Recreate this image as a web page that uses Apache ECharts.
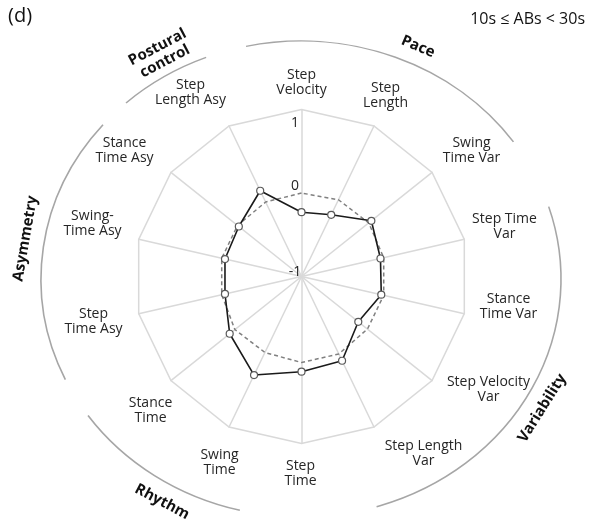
<!DOCTYPE html>
<html>
<head>
<meta charset="utf-8">
<script src="https://cdn.jsdelivr.net/npm/echarts@6/dist/echarts.min.js"></script>
<style>
  html, body { margin: 0; padding: 0; background: #fff; }
  #chart { width: 591px; height: 521px; }
</style>
</head>
<body>
<div id="chart"></div>
<script>
// Gait parameters, listed clockwise from the top spoke
const categories = [
  'Step\nVelocity', 'Step\nLength', 'Swing\nTime Var', 'Step Time\nVar',
  'Stance\nTime Var', 'Step Velocity\nVar', 'Step Length\nVar', 'Step\nTime',
  'Swing\nTime', 'Stance\nTime', 'Step\nTime Asy', 'Swing-\nTime Asy',
  'Stance\nTime Asy', 'Step\nLength Asy'
];
// z-scores of the 10s <= ABs < 30s group (solid line)
const groupValues = [-0.23, -0.18, 0.07, -0.03, -0.02, -0.13, 0.12, 0.14, 0.31, 0.10, -0.06, -0.06, -0.04, 0.14];
// comparison profile (dashed line)
const referenceValues = [0.00, 0.02, 0.03, 0.01, 0.01, 0.01, 0.03, 0.03, 0.01, 0.02, -0.02, -0.02, -0.02, -0.01];
const tickValues = [-1, 0, 1];
const tickLabels = ['-1', '0', '1'];
const domains = ['Pace', 'Variability', 'Rhythm', 'Asymmetry', 'Postural\ncontrol'];

// ---- layout ----
const CX = 301.5, CY = 276.5, R = 167;
const FONT = '"Open Sans", "Noto Sans", sans-serif';
// centres of the parameter names, relative to the radar centre
const nameOffsets = [
  [0, -194], [84, -181], [170, -126], [203, -50], [207, 30], [187, 113], [122, 177],
  [-1, 197], [-82, 186], [-151, 134], [-208, 45], [-209, -53], [-177, -126], [-111, -184]
];
// value labels: nudge along the vertical spoke
const tickShift = [-4, -7, 14];

// domain brackets drawn as pieces of one ellipse around the radar
const ELL = { cx: 301, cy: 279, rx: 260, ry: 238 };
const deg = Math.PI / 180;
const domainArcs = [ // [start, end] in degrees, canvas orientation (y down)
  [257.8, 324.8], [-17.7, 73.1], [103.6, 145], [155, 220.4], [227.7, 248.6]
];
const domainLabelAt = [ // [angle on ellipse, distance outside it]
  [295, 18], [30, 19], [120, 19], [189, 19], [240, 21]
];

// radar indicators run counter-clockwise in ECharts, so feed them reversed
const n = categories.length;
const ccw = categories.map((_, i) => (n - i) % n);

const graphics = [];

domainArcs.forEach(([a0, a1]) => {
  graphics.push({
    type: 'arc', x: ELL.cx, y: ELL.cy, scaleY: ELL.ry / ELL.rx, silent: true,
    shape: { cx: 0, cy: 0, r: ELL.rx, startAngle: a0 * deg, endAngle: a1 * deg, clockwise: true },
    style: { fill: 'none', stroke: '#a6a6a6', lineWidth: 1.6, strokeNoScale: true }
  });
});

domains.forEach((label, k) => {
  const [tDeg, d] = domainLabelAt[k];
  const t = tDeg * deg;
  const px = ELL.cx + ELL.rx * Math.cos(t), py = ELL.cy + ELL.ry * Math.sin(t);
  let nx = ELL.ry * Math.cos(t), ny = ELL.rx * Math.sin(t);
  const nl = Math.hypot(nx, ny); nx /= nl; ny /= nl;
  let tx = -ELL.rx * Math.sin(t), ty = ELL.ry * Math.cos(t);
  if (tx < 0) { tx = -tx; ty = -ty; }
  graphics.push({
    type: 'text', x: px + nx * d, y: py + ny * d, rotation: -Math.atan2(ty, tx), silent: true,
    style: {
      text: label, x: 0, y: 0, fill: '#111',
      font: 'bold 15px ' + FONT, lineHeight: 16,
      align: 'center', verticalAlign: 'middle', textAlign: 'center', textVerticalAlign: 'middle'
    }
  });
});

categories.forEach((label, i) => {
  graphics.push({
    type: 'text', x: CX + nameOffsets[i][0], y: CY + nameOffsets[i][1], silent: true,
    style: {
      text: label, x: 0, y: 0, fill: '#262626',
      font: '14px ' + FONT, lineHeight: 15,
      align: 'center', verticalAlign: 'middle', textAlign: 'center', textVerticalAlign: 'middle'
    }
  });
});

tickValues.forEach((v, k) => {
  const r = (v + 1) / 2 * R;
  graphics.push({
    type: 'text', x: 295, y: CY - r + tickShift[k], silent: true, z: 100,
    style: {
      text: tickLabels[k], x: 0, y: 0, fill: '#262626', font: '14px ' + FONT,
      align: 'center', verticalAlign: 'middle', textAlign: 'center', textVerticalAlign: 'middle'
    }
  });
});

graphics.push({
  type: 'text', x: 8, y: 16, silent: true,
  style: { text: '(d)', x: 0, y: 0, fill: '#111', font: '20px ' + FONT,
    align: 'left', verticalAlign: 'middle', textAlign: 'left', textVerticalAlign: 'middle' }
});
graphics.push({
  type: 'text', x: 585, y: 19, silent: true,
  style: { text: '10s \u2264 ABs < 30s', x: 0, y: 0, fill: '#111', font: '16px ' + FONT,
    align: 'right', verticalAlign: 'middle', textAlign: 'right', textVerticalAlign: 'middle' }
});

const chart = echarts.init(document.getElementById('chart'), null, { renderer: 'canvas' });
chart.setOption({
  animation: false,
  backgroundColor: '#fff',
  radar: {
    center: [CX, CY],
    radius: R,
    startAngle: 90,
    shape: 'polygon',
    splitNumber: 1,
    axisName: { show: false },
    axisLine: { lineStyle: { color: '#d9d9d9', width: 1.5 } },
    splitLine: { lineStyle: { color: '#d9d9d9', width: 1.5 } },
    splitArea: { show: false },
    axisTick: { show: false },
    axisLabel: { show: false },
    indicator: ccw.map(i => ({ name: categories[i], min: -1, max: 1 }))
  },
  series: [{
    type: 'radar',
    silent: true,
    z: 3,
    data: [
      {
        name: 'reference',
        value: ccw.map(i => referenceValues[i]),
        symbol: 'none',
        lineStyle: { color: '#808080', width: 1.5, type: [4, 3] }
      },
      {
        name: '10s \u2264 ABs < 30s',
        value: ccw.map(i => groupValues[i]),
        symbol: 'circle',
        symbolSize: 7,
        itemStyle: { color: '#fff', borderColor: '#595959', borderWidth: 1.2 },
        lineStyle: { color: '#1a1a1a', width: 1.6 }
      }
    ]
  }],
  graphic: graphics
});
</script>
</body>
</html>
